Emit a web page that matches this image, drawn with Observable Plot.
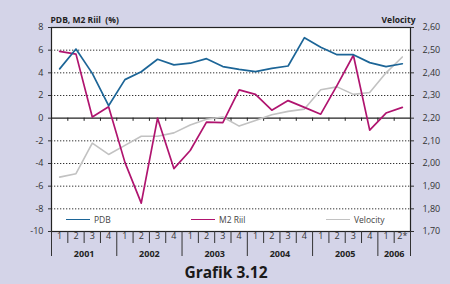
<!DOCTYPE html>
<html><head><meta charset="utf-8">
<script src="https://cdn.jsdelivr.net/npm/d3@7"></script>
<script src="https://cdn.jsdelivr.net/npm/@observablehq/plot@0.6"></script>
<style>
html,body{margin:0;padding:0;background:#d4d4e8;}
#wrap{position:relative;width:450px;height:284px;overflow:hidden;font-family:"Open Sans",sans-serif;background:#d4d4e8;}
#chart svg{display:block;}
#title{position:absolute;left:0;width:452px;top:262px;text-align:center;font-weight:bold;font-size:15.5px;line-height:20px;color:#1a1a1a;}
.leg{position:absolute;top:213px;height:12px;font-size:8.5px;color:#444;display:flex;align-items:center;}
.leg .sw{display:inline-block;width:24px;height:0;border-top:1.8px solid;margin-right:4px;}
</style></head><body>
<div id="wrap"><div id="chart"></div><div id="legend"></div><div id="title">Grafik 3.12</div></div>
<script>
const quarters = ["1","2","3","4","1","2","3","4","1","2","3","4","1","2","3","4","1","2","3","4","1","2*"];
const years = ["2001","2002","2003","2004","2005","2006"];
const quartersPerYear = [4,4,4,4,4,2];
const seriesNames = ["PDB","M2 Riil","Velocity"];
const seriesColors = ["#1c6597","#b0146f","#c2c2c2"];
const pdb = [4.35,6.1,3.95,1.1,3.4,4.1,5.2,4.7,4.85,5.25,4.55,4.3,4.1,4.4,4.6,7.1,6.25,5.6,5.6,4.9,4.55,4.8];
const m2Riil = [5.9,5.65,0.1,1.0,-3.9,-7.5,0,-4.45,-2.85,-0.35,-0.4,2.5,2.1,0.7,1.55,0.95,0.35,2.9,5.55,-1.05,0.45,0.95];
const velocity = [1.94,1.955,2.09,2.04,2.08,2.12,2.12,2.135,2.17,2.195,2.205,2.165,2.19,2.215,2.23,2.24,2.325,2.338,2.305,2.313,2.40,2.47];
const leftTicks = [-10,-8,-6,-4,-2,0,2,4,6,8];
const rightTicks = [1.70,1.80,1.90,2.00,2.10,2.20,2.30,2.40,2.50,2.60];

const leftDomain = [leftTicks[0], leftTicks[leftTicks.length-1]];
const rightDomain = [rightTicks[0], rightTicks[rightTicks.length-1]];
const k = (leftDomain[1]-leftDomain[0])/(rightDomain[1]-rightDomain[0]);
const velToLeft = v => leftDomain[0] + (v - rightDomain[0]) * k;
const leftToVel = y => rightDomain[0] + (y - leftDomain[0]) / k;

const idx = quarters.map((q,i)=>i);
const rows = idx.map(i => ({i, q: quarters[i], pdb: pdb[i], m2: m2Riil[i], vel: velToLeft(velocity[i])}));

// year spans
let acc = 0;
const yearSpans = years.map((y,j)=>{const s = acc; acc += quartersPerYear[j]; return {year:y, start:s, end:acc, mid:(s+acc-1)/2};});
const yearBounds = [0, ...yearSpans.map(d=>d.end)].map(b=>b-0.5);
const quarterBounds = idx.slice(1).map(b=>b-0.5);
const shortBounds = quarterBounds.filter(b=>!yearBounds.includes(b));

const W = 450, H = 262, mT = 27, mB = 31, mL = 51, mR = 40;
const plotH = H - mT - mB;
const font = "Open Sans";

const chart = Plot.plot({
  width: W, height: H,
  marginTop: mT, marginBottom: mB, marginLeft: mL, marginRight: mR,
  style: {background: "transparent", fontFamily: font, fontSize: "9px", color: "#333"},
  x: {domain: [-0.5, quarters.length-0.5], axis: null},
  y: {domain: leftDomain, axis: null},
  marks: [
    Plot.frame({fill: "white", stroke: "none"}),
    Plot.ruleY(leftTicks.filter(t=>t!==0 && t!==leftDomain[0] && t!==leftDomain[1]), {stroke: "#333", strokeWidth: 1, strokeDasharray: "1.3,1.7"}),
    Plot.ruleY([0], {stroke: "#222", strokeWidth: 1.2}),
    Plot.ruleX(quarterBounds, {x: d=>d, y1: 0, y2: -0.28, stroke: "#222", strokeWidth: 1}),
    Plot.frame({stroke: "#222", strokeWidth: 1.2}),
    // bottom category axis separators
    Plot.ruleX(shortBounds, {x: d=>d, insetTop: plotH, insetBottom: -12, stroke: "#333", strokeWidth: 1}),
    Plot.ruleX(yearBounds, {x: d=>d, insetTop: plotH, insetBottom: -25, stroke: "#333", strokeWidth: 1}),
    Plot.text(rows, {x: "i", text: "q", frameAnchor: "bottom", dy: 5, lineAnchor: "middle", fill: "#333", fontSize: 9}),
    Plot.text(yearSpans, {x: "mid", text: "year", frameAnchor: "bottom", dy: 23, lineAnchor: "middle", fill: "#222", fontWeight: "bold", fontSize: 9}),
    // axes
    Plot.axisY({anchor: "left", ticks: leftTicks, tickSize: 3, tickPadding: 5, tickFormat: d=>String(d), fontSize: 9, stroke: "#333", color: "#333"}),
    Plot.axisY({anchor: "right", ticks: leftTicks, tickSize: 3, tickPadding: 9, tickFormat: d=>leftToVel(d).toFixed(2).replace(".",","), fontSize: 9}),
    // axis titles
    Plot.text(["PDB, M2 Riil  (%)"], {frameAnchor: "top-left", dx: -1, dy: -11, textAnchor: "start", fontWeight: "bold", fontSize: 8.5, fill: "#222"}),
    Plot.text(["Velocity"], {frameAnchor: "top-right", dx: 5, dy: -11, textAnchor: "end", fontWeight: "bold", fontSize: 8.5, fill: "#222"}),
    // series
    Plot.line(rows, {x: "i", y: "vel", stroke: seriesColors[2], strokeWidth: 1.6}),
    Plot.line(rows, {x: "i", y: "m2", stroke: seriesColors[1], strokeWidth: 1.7}),
    Plot.line(rows, {x: "i", y: "pdb", stroke: seriesColors[0], strokeWidth: 1.7})
  ]
});
document.getElementById("chart").appendChild(chart);

// legend inside the plot area
const legendLeft = [66, 191, 326];
const legend = document.getElementById("legend");
seriesNames.forEach((n,j)=>{
  const d = document.createElement("div");
  d.className = "leg";
  d.style.left = legendLeft[j] + "px";
  d.innerHTML = `<span class="sw" style="border-color:${seriesColors[j]}"></span><span>${n}</span>`;
  legend.appendChild(d);
});
</script>
</body></html>
